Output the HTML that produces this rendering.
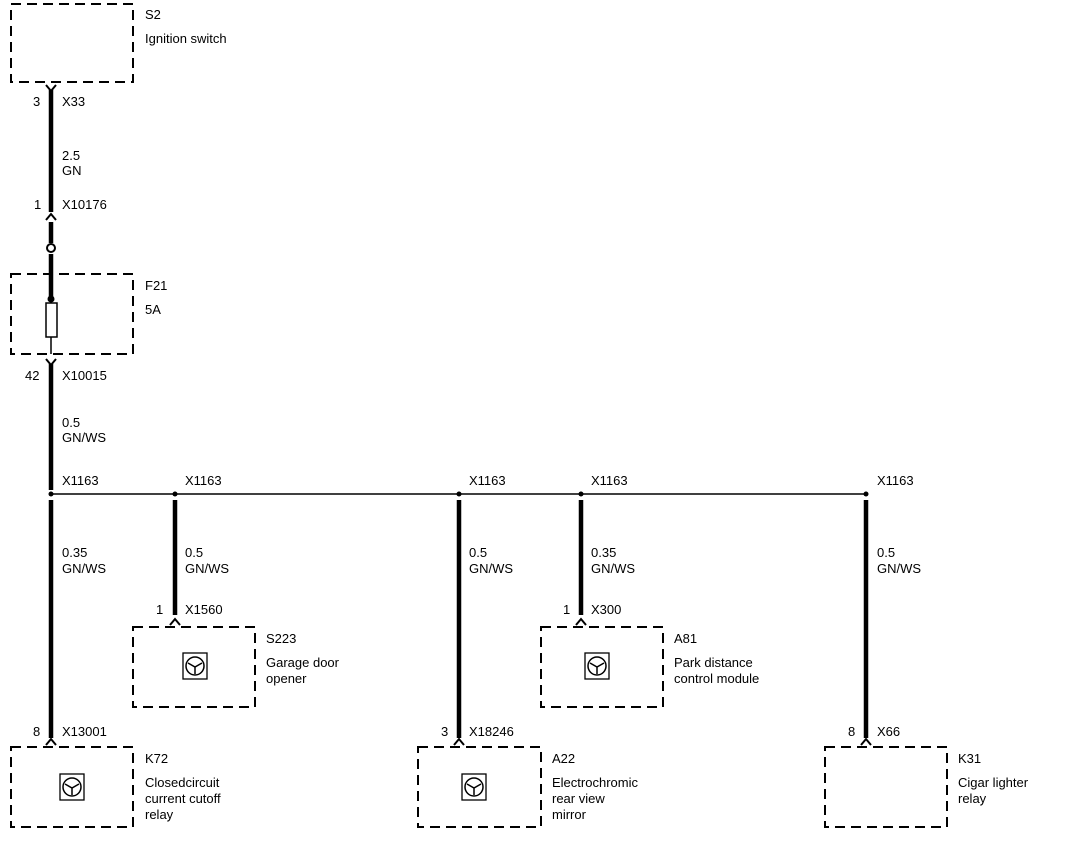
<!DOCTYPE html>
<html><head><meta charset="utf-8"><style>
html,body{margin:0;padding:0;background:#fff;}
svg{display:block;}
text{font-family:"Liberation Sans",Arial,sans-serif;font-size:13px;fill:#000;}
</style></head><body>
<svg width="1072" height="854" viewBox="0 0 1072 854" xmlns="http://www.w3.org/2000/svg">
<defs>
<g id="icon">
<rect x="-12" y="-13" width="24" height="26" fill="#fff" stroke="#000" stroke-width="1.3"/>
<circle cx="0" cy="0" r="9" fill="none" stroke="#000" stroke-width="1.5"/>
<path d="M-7 -3 L0 1 L7 -3 M0 1 L0 8" stroke="#000" stroke-width="1.5" fill="none"/>
</g>
</defs>
<g fill="none" stroke="#000" stroke-width="2" stroke-dasharray="10,6">
<rect x="11" y="4" width="122" height="78"/>
<rect x="11" y="274" width="122" height="80"/>
<rect x="133" y="627" width="122" height="80"/>
<rect x="541" y="627" width="122" height="80"/>
<rect x="11" y="747" width="122" height="80"/>
<rect x="418" y="747" width="123" height="80"/>
<rect x="825" y="747" width="122" height="80"/>
</g>
<g stroke="#000" stroke-width="4.5" fill="none">
<line x1="51" y1="90" x2="51" y2="212"/>
<line x1="51" y1="222" x2="51" y2="243"/>
<line x1="51" y1="254" x2="51" y2="298"/>
<line x1="51" y1="364" x2="51" y2="490"/>
<line x1="51" y1="500" x2="51" y2="738"/>
<line x1="175" y1="500" x2="175" y2="615"/>
<line x1="459" y1="500" x2="459" y2="738"/>
<line x1="581" y1="500" x2="581" y2="615"/>
<line x1="866" y1="500" x2="866" y2="738"/>
</g>
<g stroke="#000" stroke-width="1.5" fill="none">
<line x1="51" y1="274" x2="51" y2="354"/>
<line x1="51" y1="494" x2="866" y2="494"/>
<rect x="46" y="303" width="11" height="34" fill="#fff"/>
<circle cx="51" cy="248" r="4" fill="#fff" stroke-width="2"/>
</g>
<g stroke="#000" stroke-width="2" fill="none">
<path d="M46 85 L51 91 L56 85"/>
<path d="M46 220 L51 214 L56 220"/>
<path d="M46 359 L51 365 L56 359"/>
<path d="M46 745 L51 739 L56 745"/>
<path d="M170 625 L175 619 L180 625"/>
<path d="M454 745 L459 739 L464 745"/>
<path d="M576 625 L581 619 L586 625"/>
<path d="M861 745 L866 739 L871 745"/>
</g>
<circle cx="51" cy="299" r="3.5" fill="#000"/>
<g fill="#000">
<circle cx="51" cy="494" r="2.5"/><circle cx="175" cy="494" r="2.5"/><circle cx="459" cy="494" r="2.5"/><circle cx="581" cy="494" r="2.5"/><circle cx="866" cy="494" r="2.5"/>
</g>
<use href="#icon" x="72" y="787"/>
<use href="#icon" x="195" y="666"/>
<use href="#icon" x="474" y="787"/>
<use href="#icon" x="597" y="666"/>
<text x="145" y="19">S2</text>
<text x="145" y="43">Ignition switch</text>
<text x="33" y="106">3</text><text x="62" y="106">X33</text>
<text x="62" y="160">2.5</text><text x="62" y="175">GN</text>
<text x="34" y="209">1</text><text x="62" y="209">X10176</text>
<text x="145" y="290">F21</text>
<text x="145" y="314">5A</text>
<text x="25" y="380">42</text><text x="62" y="380">X10015</text>
<text x="62" y="427">0.5</text><text x="62" y="442">GN/WS</text>
<text x="62" y="485">X1163</text>
<text x="185" y="485">X1163</text>
<text x="469" y="485">X1163</text>
<text x="591" y="485">X1163</text>
<text x="877" y="485">X1163</text>
<text x="62" y="557">0.35</text><text x="62" y="573">GN/WS</text>
<text x="185" y="557">0.5</text><text x="185" y="573">GN/WS</text>
<text x="469" y="557">0.5</text><text x="469" y="573">GN/WS</text>
<text x="591" y="557">0.35</text><text x="591" y="573">GN/WS</text>
<text x="877" y="557">0.5</text><text x="877" y="573">GN/WS</text>
<text x="156" y="614">1</text><text x="185" y="614">X1560</text>
<text x="563" y="614">1</text><text x="591" y="614">X300</text>
<text x="266" y="643">S223</text>
<text x="266" y="667">Garage door</text><text x="266" y="683">opener</text>
<text x="674" y="643">A81</text>
<text x="674" y="667">Park distance</text><text x="674" y="683">control module</text>
<text x="33" y="736">8</text><text x="62" y="736">X13001</text>
<text x="441" y="736">3</text><text x="469" y="736">X18246</text>
<text x="848" y="736">8</text><text x="877" y="736">X66</text>
<text x="145" y="763">K72</text>
<text x="145" y="787">Closedcircuit</text><text x="145" y="803">current cutoff</text><text x="145" y="819">relay</text>
<text x="552" y="763">A22</text>
<text x="552" y="787">Electrochromic</text><text x="552" y="803">rear view</text><text x="552" y="819">mirror</text>
<text x="958" y="763">K31</text>
<text x="958" y="787">Cigar lighter</text><text x="958" y="803">relay</text>
</svg>
</body></html>
